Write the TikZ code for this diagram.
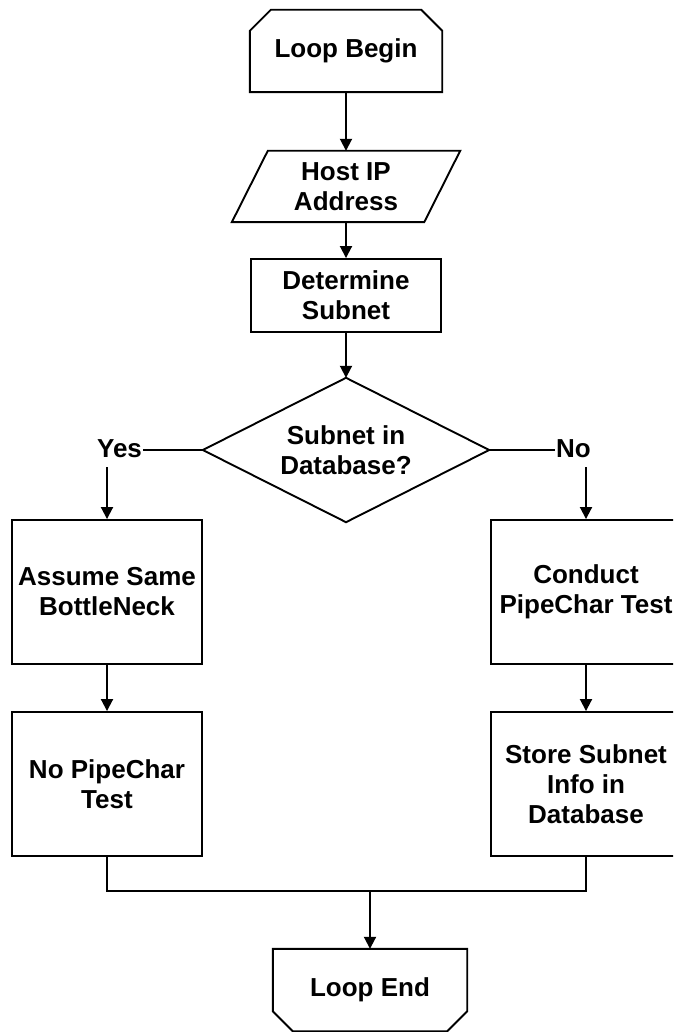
\documentclass[tikz,border=0pt]{standalone}
\usepackage{fontspec}
\setmainfont{Liberation Sans}
\usetikzlibrary{arrows.meta,calc}
\newcommand\flowfont{\fontsize{26}{30}\selectfont\bfseries}
\begin{document}
\begin{tikzpicture}[x=1pt,y=-1pt,
  ln/.style={line width=1.9pt},
  arr/.style={line width=1.9pt,-{Triangle[length=12pt,width=12pt]}},
  plain/.style={inner sep=0pt,align=center,font=\flowfont},
  box/.style={plain,draw,line width=1.9pt,minimum width=190pt,minimum height=144pt},
  lbl/.style={inner xsep=1pt,inner ysep=9pt,font=\flowfont}]
\useasboundingbox (0,0) rectangle (673,1032);
\clip (0,0) rectangle (673,1032);
% Loop Begin
\node[plain,minimum width=192pt,minimum height=82pt] (lb) at (346,51) {Loop Begin};
\draw[ln] (lb.south west) -- ([yshift=-21pt]lb.north west) -- ([xshift=21pt]lb.north west)
  -- ([xshift=-21pt]lb.north east) -- ([yshift=-21pt]lb.north east) -- (lb.south east) -- cycle;
% Host IP Address
\node[plain,minimum width=228pt,minimum height=71pt] (ip) at (346,186.5) {Host IP\\Address};
\draw[ln] ([xshift=36pt]ip.north west) -- (ip.north east) -- ([xshift=-36pt]ip.south east)
  -- (ip.south west) -- cycle;
% Determine Subnet
\node[box,minimum width=190pt,minimum height=73pt] (det) at (346,295.5) {Determine\\Subnet};
% Decision
\node[plain,minimum width=286pt,minimum height=144pt] (dec) at (346,450) {Subnet in\\Database?};
\draw[ln] (dec.north) -- (dec.east) -- (dec.south) -- (dec.west) -- cycle;
% labels
\node[lbl] (yes) at (119.5,449) {Yes};
\node[lbl] (no) at (573.5,449) {No};
% branch boxes
\node[box] (lb1) at (107,592) {Assume Same\\BottleNeck};
\node[box] (lb2) at (107,784) {No PipeChar\\Test};
\node[box] (rb1) at (586,592) {Conduct\\PipeChar Test};
\node[box] (rb2) at (586,784) {Store Subnet\\Info in\\Database};
% Loop End
\node[plain,minimum width=194pt,minimum height=82pt] (le) at (370,990) {Loop End};
\draw[ln] (le.north west) -- (le.north east) -- ([yshift=20pt]le.south east)
  -- ([xshift=-20pt]le.south east) -- ([xshift=20pt]le.south west)
  -- ([yshift=20pt]le.south west) -- cycle;
% connectors
\draw[arr] (lb.south) -- (ip.north);
\draw[arr] (ip.south) -- (det.north);
\draw[arr] (det.south) -- (dec.north);
\draw[ln] (dec.west) -- (dec.west -| yes.east);
\draw[ln] (dec.east) -- (dec.east -| no.west);
\draw[arr] (yes.south -| lb1.north) -- (lb1.north);
\draw[arr] (no.south -| rb1.north) -- (rb1.north);
\draw[arr] (lb1.south) -- (lb2.north);
\draw[arr] (rb1.south) -- (rb2.north);
\coordinate (mj) at (370,891);
\draw[ln] (lb2.south) |- (mj) -| (rb2.south);
\draw[arr] (mj) -- (le.north);
\end{tikzpicture}
\end{document}
